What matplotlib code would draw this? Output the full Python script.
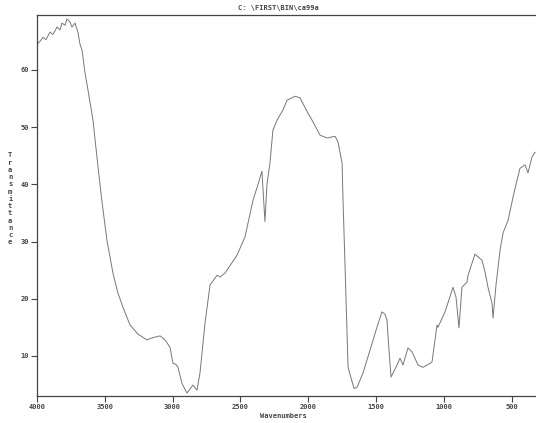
import matplotlib
matplotlib.use("Agg")
import matplotlib.pyplot as plt

# IR spectrum (wavenumber cm-1, % transmittance)
wavenumbers = [4000, 3978, 3956, 3934, 3904, 3882, 3852, 3830, 3816, 3793,
               3779, 3757, 3742, 3720, 3698, 3683, 3668, 3646, 3624, 3587,
               3558, 3521, 3484, 3440, 3403, 3366, 3314, 3255, 3189, 3145,
               3093, 3056, 3019, 2997, 2975, 2960, 2931, 2894, 2872, 2850,
               2820, 2798, 2761, 2724, 2672, 2650, 2613, 2525, 2466, 2407,
               2370, 2341, 2319, 2304, 2282, 2260, 2230, 2208, 2186, 2156,
               2097, 2060, 2001, 1964, 1913, 1861, 1802, 1780, 1750, 1743,
               1721, 1706, 1662, 1640, 1596, 1544, 1493, 1456, 1434, 1419,
               1404, 1389, 1345, 1323, 1301, 1264, 1234, 1190, 1153, 1087,
               1050, 1043, 991, 932, 910, 888, 866, 829, 821, 770,
               718, 696, 674, 644, 637, 615, 585, 563, 526, 489,
               460, 438, 401, 379, 349, 327]
transmittance = [64.5, 65.0, 65.7, 65.3, 66.6, 66.2, 67.5, 67.0, 68.2, 67.8,
                 68.9, 68.4, 67.5, 68.2, 66.6, 64.5, 63.5, 59.5, 56.5, 51.2,
                 44.8, 37.0, 30.2, 24.5, 21.0, 18.5, 15.4, 13.8, 12.8, 13.2,
                 13.5, 12.8, 11.5, 8.7, 8.5, 8.0, 5.2, 3.5, 4.2, 4.9,
                 4.0, 7.0, 15.7, 22.4, 24.1, 23.8, 24.5, 27.6, 30.8, 37.2,
                 40.0, 42.3, 33.5, 40.0, 43.7, 49.5, 51.2, 52.1, 53.0, 54.7,
                 55.4, 55.1, 52.4, 50.9, 48.6, 48.1, 48.4, 47.4, 43.7, 37.2,
                 20.0, 8.0, 4.3, 4.5, 7.0, 11.0, 15.0, 17.7, 17.3, 16.3,
                 11.0, 6.3, 8.4, 9.6, 8.4, 11.4, 10.7, 8.4, 8.0, 8.9,
                 15.4, 15.0, 17.7, 22.0, 20.3, 14.9, 22.0, 22.9, 24.1, 27.8,
                 26.7, 24.7, 22.0, 19.2, 16.6, 22.4, 28.5, 31.5, 33.7, 37.8,
                 40.7, 42.8, 43.4, 42.0, 44.8, 45.6]

x_ticks = [4000, 3500, 3000, 2500, 2000, 1500, 1000, 500]
y_ticks = [10, 20, 30, 40, 50, 60]

font = {"family": "DejaVu Sans Mono", "weight": "bold", "size": 5}
ink = "#444444"

fig = plt.figure(figsize=(5.36, 4.23), dpi=100)
ax = fig.add_axes([0.069, 0.064, 0.931, 0.9005])

ax.plot(wavenumbers, transmittance, color="#777777", linewidth=0.7)

ax.set_xlim(4000, 320)
ax.set_ylim(3, 69.6)

ax.set_xticks(x_ticks)
ax.set_xticklabels([str(t) for t in x_ticks], fontdict=font, color=ink)
ax.set_yticks(y_ticks)
ax.set_yticklabels([str(t) for t in y_ticks], fontdict=font, color=ink)
ax.tick_params(axis="both", direction="out", length=4, width=0.8, color=ink, pad=2)

for side in ["left", "bottom", "top"]:
    ax.spines[side].set_color(ink)
    ax.spines[side].set_linewidth(0.9)
ax.spines["right"].set_visible(False)

# plotter style labels
fig.text(0.519, 0.981, "C: \\FIRST\\BIN\\ca99a", ha="center", va="center",
         color=ink, **font)
fig.text(0.528, 0.017, "Wavenumbers", ha="center", va="center", color=ink, **font)
fig.text(0.019, 0.53, "\n".join("Transmittance"), ha="center", va="center",
         color=ink, linespacing=1.25, **font)

fig.savefig("out.png", dpi=100)
